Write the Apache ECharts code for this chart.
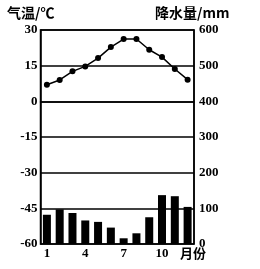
<!DOCTYPE html>
<html>
<head>
<meta charset="utf-8">
<script src="https://cdn.jsdelivr.net/npm/echarts@6/dist/echarts.min.js"></script>
<style>
  html, body { margin: 0; padding: 0; background: #fff; }
  #chart { width: 260px; height: 269px; }
</style>
</head>
<body>
<div id="chart"></div>
<script>
// months 1-12
let months = ['1', '2', '3', '4', '5', '6', '7', '8', '9', '10', '11', '12']
// temperature in ℃
let temps = [7, 9, 12.6, 14.7, 18.2, 22.8, 26.2, 26.2, 21.7, 18.6, 13.6, 9.1]
// precipitation in mm
let rain = [82, 97, 87, 66, 62, 46, 16, 30, 75, 137, 134, 104]

let chart = echarts.init(document.getElementById('chart'))
let numFont = 'Liberation Serif'

chart.setOption({
    animation: false,
    grid: {
        left: 40.5, right: 66, top: 30, bottom: 25,
        show: true, borderColor: '#000', borderWidth: 1.5
    },
    xAxis: {
        type: 'category',
        data: months,
        axisLine: { lineStyle: { color: '#000', width: 1.5 } },
        axisTick: { show: false },
        axisLabel: {
            interval: function (i) { return i % 3 === 0 },
            color: '#000', fontFamily: numFont, fontWeight: 'bold', fontSize: 13, margin: 3
        }
    },
    yAxis: [{
        type: 'value',
        min: -60, max: 30, interval: 15,
        axisLine: { show: true, lineStyle: { color: '#000', width: 1.5 } },
        axisTick: { show: false },
        splitLine: { lineStyle: { color: '#000', width: 1.5 } },
        axisLabel: { color: '#000', fontFamily: numFont, fontWeight: 'bold', fontSize: 13, margin: 3 }
    }, {
        type: 'value',
        min: 0, max: 600, interval: 100,
        axisLine: { show: true, lineStyle: { color: '#000', width: 1.5 } },
        axisTick: { show: false },
        splitLine: { show: false },
        axisLabel: { color: '#000', fontFamily: numFont, fontWeight: 'bold', fontSize: 13, margin: 5 }
    }],
    graphic: [
        { type: 'text', left: 7, top: 6, style: { text: '气温/℃', fill: '#000', font: 'bold 14px "Noto Sans CJK SC"' } },
        { type: 'text', left: 155, top: 6, style: { text: '降水量/mm', fill: '#000', font: 'bold 14px "Noto Sans CJK SC"' } },
        { type: 'text', left: 180, top: 247, style: { text: '月份', fill: '#000', font: 'bold 13px "Noto Sans CJK SC"' } }
    ],
    series: [{
        type: 'bar',
        yAxisIndex: 1,
        data: rain,
        barWidth: 8,
        itemStyle: { color: '#000' }
    }, {
        type: 'line',
        yAxisIndex: 0,
        data: temps,
        symbol: 'circle',
        symbolSize: 6,
        lineStyle: { color: '#000', width: 1.5 },
        itemStyle: { color: '#000' }
    }]
})
</script>
</body>
</html>
